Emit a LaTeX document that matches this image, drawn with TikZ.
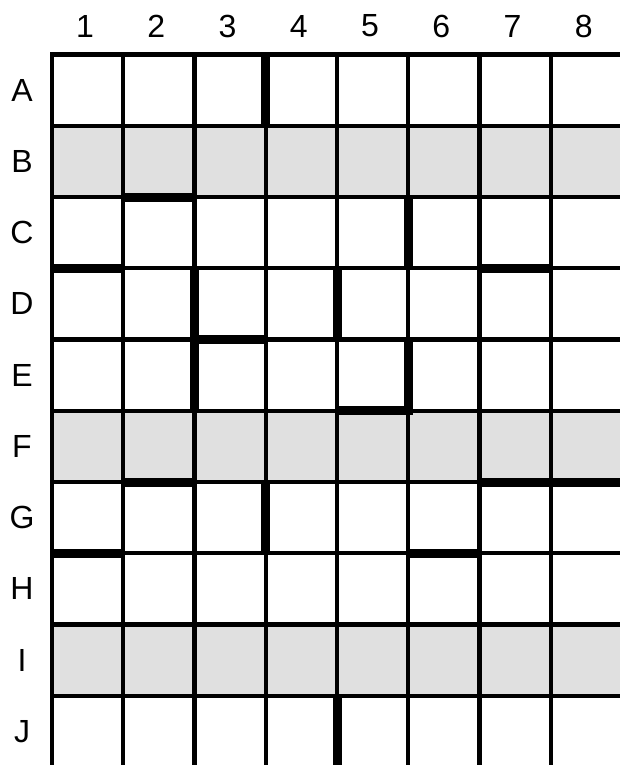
\documentclass[tikz,border=0pt]{standalone}
\usepackage{fontspec}
\setmainfont{Liberation Sans}
\definecolor{shadegray}{HTML}{E0E0E0}
\begin{document}
\begin{tikzpicture}[x=1pt,y=-1pt,
  gridline/.style={line width=4.4pt, line cap=rect},
  wallline/.style={line width=9pt, line cap=butt, line join=miter},
  shaderow/.style={fill=shadegray, draw=none},
  lbl/.style={font=\fontsize{32}{32}\selectfont, inner sep=0pt, anchor=center}]
\clip (0,0) rectangle (620,765);
\def\X{52}\def\Y{54.5}\def\S{71.25}
% shaded rows B, F, I
\foreach \j in {1,5,8}
  \fill[shaderow] ({\X},{\Y+\S*\j}) rectangle ({\X+8*\S},{\Y+\S*(\j+1)});
% grid
\foreach \i in {0,...,8}
  \draw[gridline] ({\X+\S*\i},{\Y}) -- ({\X+\S*\i},{\Y+10*\S});
\foreach \j in {0,...,10}
  \draw[gridline] ({\X},{\Y+\S*\j}) -- ({\X+8*\S},{\Y+\S*\j});
% thick walls: vertical
\draw[wallline] ({\X+3*\S},{\Y}) -- ({\X+3*\S},{\Y+\S});
\draw[wallline] ({\X+5*\S},{\Y+2*\S}) -- ({\X+5*\S},{\Y+3*\S});
\draw[wallline] ({\X+2*\S},{\Y+3*\S}) -- ({\X+2*\S},{\Y+5*\S});
\draw[wallline] ({\X+4*\S},{\Y+3*\S}) -- ({\X+4*\S},{\Y+4*\S});
\draw[wallline] ({\X+5*\S},{\Y+4*\S}) -- ({\X+5*\S},{\Y+5*\S}) -- ({\X+4*\S},{\Y+5*\S});
\draw[wallline] ({\X+3*\S},{\Y+6*\S}) -- ({\X+3*\S},{\Y+7*\S});
\draw[wallline] ({\X+4*\S},{\Y+9*\S}) -- ({\X+4*\S},{\Y+10*\S});
% thick walls: horizontal
\draw[wallline] ({\X+\S},{\Y+2*\S}) -- ({\X+2*\S},{\Y+2*\S});
\draw[wallline] ({\X},{\Y+3*\S}) -- ({\X+\S},{\Y+3*\S});
\draw[wallline] ({\X+6*\S},{\Y+3*\S}) -- ({\X+7*\S},{\Y+3*\S});
\draw[wallline] ({\X+2*\S},{\Y+4*\S}) -- ({\X+3*\S},{\Y+4*\S});
\draw[wallline] ({\X+\S},{\Y+6*\S}) -- ({\X+2*\S},{\Y+6*\S});
\draw[wallline] ({\X+6*\S},{\Y+6*\S}) -- ({\X+8*\S},{\Y+6*\S});
\draw[wallline] ({\X},{\Y+7*\S}) -- ({\X+\S},{\Y+7*\S});
\draw[wallline] ({\X+5*\S},{\Y+7*\S}) -- ({\X+6*\S},{\Y+7*\S});
% column labels
\foreach \t [count=\i] in {1,...,8}
  \node[lbl] (col\t) at ({\X+\S*(\i-0.5)-2.5},26) {\t};
% row labels
\foreach \t [count=\j] in {A,B,C,D,E,F,G,H,I,J}
  \node[lbl] (row\t) at (22,{\Y+\S*(\j-0.5)}) {\t};
\end{tikzpicture}
\end{document}
